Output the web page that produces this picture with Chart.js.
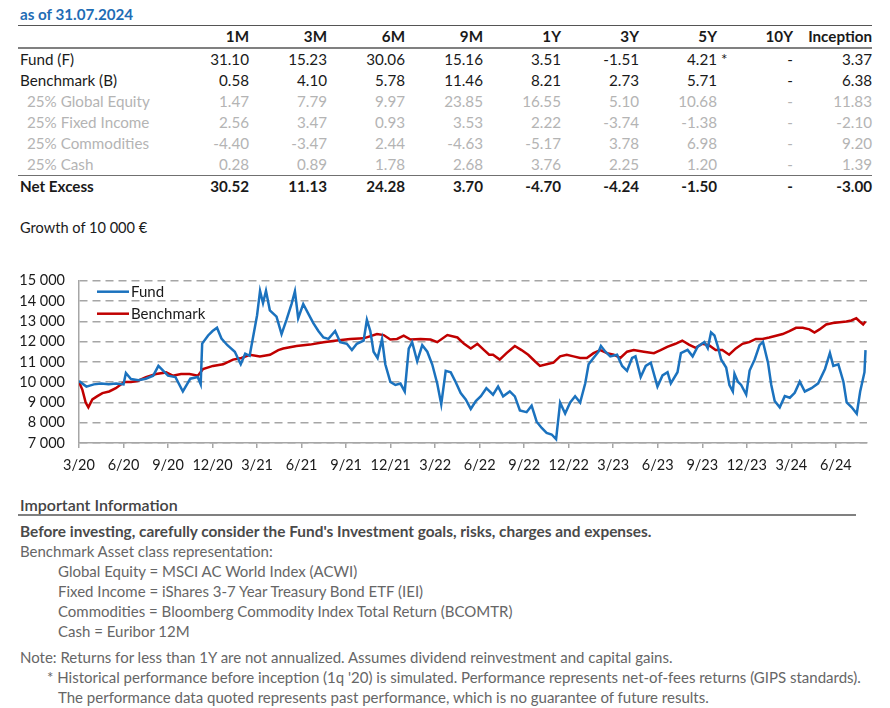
<!DOCTYPE html>
<html>
<head>
<meta charset="utf-8">
<script src="https://cdn.jsdelivr.net/npm/chart.js@4.4.1/dist/chart.umd.min.js"></script>
<style>
  body { margin: 0; width: 890px; height: 708px; background: #fff; font-family: Lato, "Open Sans", sans-serif; position: relative; overflow: hidden; }
  .abs { position: absolute; white-space: nowrap; }
  #asof { left: 20px; top: 5px; font-size: 15.2px; font-weight: bold; color: #1f6db5; }
  #perf { position: absolute; left: 18px; top: 25px; width: 854px; border-collapse: collapse; table-layout: fixed; font-size: 15.2px; color: #1a1a1a; }
  #perf td, #perf th { height: 21px; padding: 0; line-height: 21px; text-align: right; white-space: nowrap; }
  #perf thead tr { border-top: 1px solid #555; border-bottom: 2px solid #808080; }
  #perf th { font-weight: bold; }
  #perf td.lbl { text-align: left; padding-left: 2px; }
  #perf tr.sub td { color: #b4b4b4; }
  #perf tr.sub td.lbl { padding-left: 9px; }
  #perf tr.net { border-top: 1.5px solid #707070; font-weight: bold; }
  .star { position: absolute; padding-left: 4px; }
  #growth { left: 20px; top: 219px; font-size: 14.6px; color: #1a1a1a; }
  #chartBox { position: absolute; left: 0; top: 258px; width: 890px; height: 216px; }
  #info { left: 20px; top: 495px; font-size: 16px; color: #444; font-weight: 600; }
  #infoLine { position: absolute; left: 18px; top: 514px; width: 838px; height: 2px; background: #808080; }
  .txt { font-size: 15px; color: #666; }
  .bold { font-weight: bold; color: #4a4a4a; font-size: 15.4px; }
</style>
</head>
<body>
<div id="asof" class="abs">as of 31.07.2024</div>

<table id="perf">
  <colgroup>
    <col style="width:153px"><col style="width:78px"><col style="width:78px"><col style="width:78px"><col style="width:78px">
    <col style="width:78px"><col style="width:78px"><col style="width:78px"><col style="width:76px"><col style="width:79px">
  </colgroup>
  <thead><tr id="headRow"></tr></thead>
  <tbody id="perfBody"></tbody>
</table>

<div id="growth" class="abs">Growth of 10 000 €</div>
<div id="chartBox"><canvas id="growthChart" width="890" height="216"></canvas></div>

<div id="info" class="abs">Important Information</div>
<div id="infoLine"></div>
<div class="abs txt bold" style="left:20px; top:522px;">Before investing, carefully consider the Fund's Investment goals, risks, charges and expenses.</div>
<div class="abs txt" style="left:20px; top:542px;">Benchmark Asset class representation:</div>
<div class="abs txt" style="left:58px; top:562px;">Global Equity = MSCI AC World Index (ACWI)</div>
<div class="abs txt" style="left:58px; top:582px;">Fixed Income = iShares 3-7 Year Treasury Bond ETF (IEI)</div>
<div class="abs txt" style="left:58px; top:602px;">Commodities = Bloomberg Commodity Index Total Return (BCOMTR)</div>
<div class="abs txt" style="left:58px; top:622px;">Cash = Euribor 12M</div>
<div class="abs txt" style="left:20px; top:648px;">Note: Returns for less than 1Y are not annualized. Assumes dividend reinvestment and capital gains.</div>
<div class="abs txt" style="left:47px; top:668px;">* Historical performance before inception (1q '20) is simulated. Performance represents net-of-fees returns (GIPS standards).</div>
<div class="abs txt" style="left:58px; top:688px;">The performance data quoted represents past performance, which is no guarantee of future results.</div>

<script>
// performance table
const periods = ['1M', '3M', '6M', '9M', '1Y', '3Y', '5Y', '10Y', 'Inception'];
const fundRow = ['31.10', '15.23', '30.06', '15.16', '3.51', '-1.51', '4.21', '-', '3.37'];
const benchRow = ['0.58', '4.10', '5.78', '11.46', '8.21', '2.73', '5.71', '-', '6.38'];
const equityRow = ['1.47', '7.79', '9.97', '23.85', '16.55', '5.10', '10.68', '-', '11.83'];
const fixedRow = ['2.56', '3.47', '0.93', '3.53', '2.22', '-3.74', '-1.38', '-', '-2.10'];
const commodRow = ['-4.40', '-3.47', '2.44', '-4.63', '-5.17', '3.78', '6.98', '-', '9.20'];
const cashRow = ['0.28', '0.89', '1.78', '2.68', '3.76', '2.25', '1.20', '-', '1.39'];
const netRow = ['30.52', '11.13', '24.28', '3.70', '-4.70', '-4.24', '-1.50', '-', '-3.00'];

// growth of 10 000 (x = months since 3/20)
const fundMonths = [0, 0.5, 1, 1.5, 2, 2.5, 3, 3.16, 3.5, 4, 4.5, 5, 5.35, 6, 6.5, 7, 7.5, 8, 8.2, 8.3, 8.7, 9, 9.3, 9.6, 10, 10.5, 10.9, 11.2, 11.5, 12, 12.2, 12.4, 12.6, 12.86, 13.31, 13.65, 13.98, 14.32, 14.55, 14.77, 15.11, 15.45, 15.79, 16.13, 16.47, 16.81, 17.26, 17.6, 18.05, 18.39, 18.72, 19.18, 19.4, 19.63, 19.85, 20.12, 20.42, 20.64, 20.98, 21.32, 21.66, 21.95, 22.22, 22.45, 22.79, 23.13, 23.47, 23.8, 24.14, 24.41, 24.71, 25.05, 25.38, 25.72, 26.06, 26.4, 26.74, 27.08, 27.45, 27.9, 28.24, 28.58, 29.03, 29.37, 29.71, 30.16, 30.5, 30.84, 31.18, 31.51, 31.85, 32.15, 32.42, 32.76, 33.09, 33.43, 33.77, 34.11, 34.34, 34.67, 35.01, 35.17, 35.47, 35.8, 36.26, 36.6, 36.93, 37.27, 37.5, 37.85, 38.19, 38.53, 38.98, 39.32, 39.66, 39.88, 40.33, 40.56, 41.01, 41.35, 41.69, 42.14, 42.37, 42.59, 42.82, 43.05, 43.27, 43.61, 43.83, 44.06, 44.17, 44.4, 44.62, 44.96, 45.19, 45.53, 45.86, 46.09, 46.43, 46.65, 46.88, 47.22, 47.56, 47.9, 48.23, 48.57, 48.91, 49.36, 49.81, 50.27, 50.6, 50.83, 51.17, 51.51, 51.73, 52.07, 52.41, 52.64, 52.93, 53];
const fundValues = [10050, 9780, 9890, 9930, 9900, 9930, 9890, 10450, 10150, 10090, 10170, 10320, 10800, 10320, 10250, 9540, 10170, 10250, 9900, 11900, 12300, 12520, 12680, 12150, 11820, 11500, 10880, 11400, 11300, 13300, 14500, 13900, 14500, 13540, 13230, 12370, 13070, 13850, 14480, 13150, 13850, 13380, 12910, 12520, 12200, 12130, 12520, 11970, 11890, 11580, 11890, 12050, 13070, 12520, 11500, 11190, 12130, 10880, 10010, 9860, 9930, 9540, 11650, 11970, 11030, 11820, 11500, 10880, 9930, 8910, 10560, 10480, 10010, 9460, 9150, 8680, 9070, 9310, 9700, 9380, 9780, 9300, 9540, 9300, 8600, 8520, 8840, 8050, 7740, 7500, 7420, 7190, 8990, 8450, 8990, 9300, 8990, 9930, 10880, 11190, 11500, 11780, 11500, 11270, 11350, 10800, 10560, 11190, 11270, 10250, 10800, 10960, 9780, 10330, 10490, 9940, 10490, 11430, 11590, 11270, 11750, 11980, 11670, 12450, 12300, 11750, 11120, 10720, 9860, 9540, 10410, 10020, 9860, 9390, 10570, 11120, 11820, 11980, 10960, 9860, 9070, 8760, 9310, 9230, 9470, 10020, 9540, 9700, 9940, 10650, 11430, 10800, 10880, 10020, 9000, 8760, 8440, 9540, 10490, 11580];

const benchMonths = [0, 0.23, 0.45, 0.63, 0.9, 1.24, 1.58, 2.03, 2.48, 3.05, 3.5, 3.95, 4.51, 5.19, 5.87, 6.32, 6.88, 7.45, 8.01, 8.35, 9.03, 9.71, 10.38, 10.95, 11.51, 12.19, 12.87, 13.43, 13.76, 14.66, 15.56, 16.47, 17.37, 18.27, 19.18, 20.08, 20.53, 20.98, 21.43, 21.88, 22.34, 23.01, 23.69, 24.14, 24.82, 25.5, 25.95, 26.4, 26.85, 27.3, 27.64, 27.9, 28.35, 28.81, 29.37, 29.82, 30.27, 30.72, 31.06, 31.51, 31.97, 32.42, 32.87, 33.32, 33.77, 34.22, 34.67, 35.13, 35.58, 36.03, 36.48, 36.93, 37.38, 38.06, 38.74, 39.19, 39.64, 40.19, 40.65, 41.1, 41.55, 42, 42.45, 42.9, 43.35, 43.81, 44.26, 44.71, 45.16, 45.61, 46.06, 46.51, 46.97, 47.42, 47.87, 48.32, 48.77, 49.22, 49.56, 49.9, 50.35, 50.8, 51.26, 51.71, 52.05, 52.38, 52.61, 52.84, 53];
const benchValues = [10010, 9620, 8990, 8760, 9150, 9310, 9460, 9540, 9700, 10010, 10010, 10060, 10250, 10400, 10480, 10320, 10400, 10400, 10320, 10640, 10800, 10880, 11110, 11190, 11350, 11270, 11350, 11580, 11660, 11780, 11850, 11970, 12050, 12130, 12160, 12370, 12320, 12100, 12130, 12290, 12100, 12130, 12100, 11970, 12320, 12200, 11890, 11660, 11890, 11580, 11350, 11350, 11110, 11430, 11780, 11580, 11350, 11030, 10800, 10880, 10960, 11270, 11350, 11270, 11190, 11190, 11430, 11580, 11430, 11350, 11190, 11500, 11580, 11500, 11430, 11580, 11740, 11890, 12050, 11850, 11690, 11890, 11820, 11580, 11580, 11350, 11660, 11890, 11970, 12130, 12130, 12200, 12290, 12370, 12520, 12680, 12680, 12600, 12440, 12600, 12840, 12910, 12950, 12990, 13040, 13150, 12990, 12840, 12990];

const tickLabels = ['3/20', '6/20', '9/20', '12/20', '3/21', '6/21', '9/21', '12/21', '3/22', '6/22', '9/22', '12/22', '3/23', '6/23', '9/23', '12/23', '3/24', '6/24'];

// build the table
const headRow = document.getElementById('headRow');
headRow.innerHTML = '<th></th>' + periods.map(p => `<th>${p}</th>`).join('');
const rows = [
  ['Fund (F)', fundRow, ''],
  ['Benchmark (B)', benchRow, ''],
  ['25% Global Equity', equityRow, 'sub'],
  ['25% Fixed Income', fixedRow, 'sub'],
  ['25% Commodities', commodRow, 'sub'],
  ['25% Cash', cashRow, 'sub'],
  ['Net Excess', netRow, 'net']
];
document.getElementById('perfBody').innerHTML = rows.map(([label, vals, cls]) => {
  const cells = vals.map((v, i) => {
    const star = (label === 'Fund (F)' && periods[i] === '5Y') ? '<span class="star">*</span>' : '';
    return `<td>${v}${star}</td>`;
  }).join('');
  return `<tr class="${cls}"><td class="lbl">${label}</td>${cells}</tr>`;
}).join('');

// chart
const fmt = v => String(v).replace(/\B(?=(\d{3})+(?!\d))/g, ' ');
const gridGrey = '#a6a6a6';

const insideLegend = {
  id: 'insideLegend',
  afterDraw(chart) {
    const { ctx, chartArea } = chart;
    ctx.save();
    chart.data.datasets.forEach((ds, i) => {
      const y = chartArea.top + 11 + i * 22;
      ctx.strokeStyle = ds.borderColor;
      ctx.lineWidth = 2.5;
      ctx.beginPath();
      ctx.moveTo(chartArea.left + 18, y);
      ctx.lineTo(chartArea.left + 50, y);
      ctx.stroke();
      ctx.fillStyle = '#1a1a1a';
      ctx.font = '15px Lato';
      ctx.textBaseline = 'middle';
      ctx.fillText(ds.label, chartArea.left + 52, y);
    });
    ctx.restore();
  }
};

new Chart(document.getElementById('growthChart'), {
  type: 'line',
  data: {
    datasets: [{
      label: 'Fund',
      data: fundMonths.map((m, i) => ({ x: m, y: fundValues[i] })),
      borderColor: '#1b72be',
      borderWidth: 2.5,
      pointRadius: 0,
      tension: 0
    }, {
      label: 'Benchmark',
      data: benchMonths.map((m, i) => ({ x: m, y: benchValues[i] })),
      borderColor: '#c00000',
      borderWidth: 2.5,
      pointRadius: 0,
      tension: 0
    }]
  },
  options: {
    responsive: false,
    animation: false,
    devicePixelRatio: 1,
    layout: { padding: { left: 0, right: 23, top: 9, bottom: 0 } },
    plugins: { legend: { display: false }, tooltip: { enabled: false } },
    scales: {
      x: {
        type: 'linear',
        min: 0,
        max: 53.1,
        afterBuildTicks: scale => { scale.ticks = tickLabels.map((_, i) => ({ value: i * 3 })); },
        afterFit: scale => { scale.height = 31; },
        grid: { drawOnChartArea: false, drawTicks: true, tickLength: 5, color: gridGrey, lineWidth: 1.5 },
        border: { color: gridGrey, width: 1.5 },
        ticks: {
          autoSkip: false,
          maxRotation: 0,
          padding: 9,
          color: '#1a1a1a',
          font: { family: 'Lato', size: 14.5 },
          callback: (v, i) => tickLabels[i]
        }
      },
      y: {
        min: 7000,
        max: 15000,
        afterFit: scale => { scale.width = 79; },
        grid: { color: gridGrey, lineWidth: 1.5, drawTicks: false },
        border: { color: gridGrey, width: 1.5, dash: [8, 5] },
        ticks: {
          stepSize: 1000,
          autoSkip: false,
          padding: 14,
          color: '#1a1a1a',
          font: { family: 'Lato', size: 14.5 },
          callback: v => fmt(v)
        }
      }
    }
  },
  plugins: [insideLegend]
});
</script>
</body>
</html>
